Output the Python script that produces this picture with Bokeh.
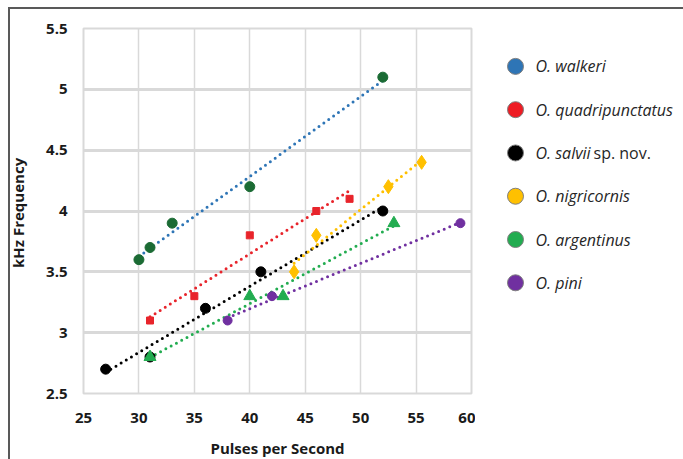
import numpy as np
from bokeh.plotting import figure
from bokeh.layouts import row
from bokeh.models import FixedTicker, Range1d
from bokeh.core.properties import value
from bokeh.embed import file_html
from bokeh.resources import INLINE

# ---- data ----
species = ["O. walkeri", "O. quadripunctatus", "O. salvii", "O. nigricornis",
           "O. argentinus", "O. pini"]
species_suffix = ["", "", "sp. nov.", "", "", ""]

walkeri_x = [30, 31, 33, 40, 52]
walkeri_y = [3.6, 3.7, 3.9, 4.2, 5.1]

quadri_x = [31, 35, 40, 46, 49]
quadri_y = [3.1, 3.3, 3.8, 4.0, 4.1]

salvii_x = [27, 31, 36, 41, 52]
salvii_y = [2.7, 2.8, 3.2, 3.5, 4.0]

nigri_x = [44, 46, 52.5, 55.5]
nigri_y = [3.5, 3.8, 4.2, 4.4]

argent_x = [31, 40, 43, 53]
argent_y = [2.8, 3.3, 3.3, 3.9]

pini_x = [38, 42, 59]
pini_y = [3.1, 3.3, 3.9]

x_ticks = [25, 30, 35, 40, 45, 50, 55, 60]
y_ticks = [2.5, 3, 3.5, 4, 4.5, 5, 5.5]

FONT = "Open Sans"

frame_css = ("linear-gradient(#595959,#595959) 8px 7px / 100% 2px no-repeat, "
             "linear-gradient(#595959,#595959) 8px 7px / 2px 100% no-repeat, white")

MAIN_W = 475
FR_TOP, FR_H = 28, 365
p = figure(width=MAIN_W, height=459, output_backend="svg", toolbar_location=None,
           x_range=Range1d(25, 60), y_range=Range1d(2.5, 5.5),
           min_border_left=83, min_border_right=MAIN_W - 83 - 388,
           min_border_top=FR_TOP, min_border_bottom=459 - FR_TOP - FR_H)
p.frame_width = 388
p.frame_height = FR_H
p.outline_line_color = "#d9d9d9"
p.outline_line_width = 2
p.background_fill_color = "white"
p.border_fill_alpha = 0

# axes
for ax in (p.xaxis[0], p.yaxis[0]):
    ax.axis_line_color = None
    ax.major_tick_line_color = None
    ax.minor_tick_line_color = None
    ax.major_tick_out = 0
    ax.major_tick_in = 0
    ax.major_label_text_font = FONT
    ax.major_label_text_font_style = "bold"
    ax.major_label_text_font_size = "15px"
    ax.major_label_text_color = "#1a1a1a"
    ax.axis_label_text_font = FONT
    ax.axis_label_text_font_style = "bold"
    ax.axis_label_text_font_size = "15px"
    ax.axis_label_text_color = "#1a1a1a"

p.xaxis.ticker = FixedTicker(ticks=x_ticks)
p.yaxis.ticker = FixedTicker(ticks=y_ticks)
p.yaxis.major_label_overrides = {2.5: "2.5", 3: "3", 3.5: "3.5", 4: "4",
                                 4.5: "4.5", 5: "5", 5.5: "5.5"}
p.xaxis.major_label_standoff = 19
p.yaxis.major_label_standoff = 16
p.xaxis.axis_label = "Pulses per Second"
p.yaxis.axis_label = "kHz  Frequency"
p.xaxis.axis_label_standoff = 12
p.yaxis.axis_label_standoff = 15

p.xgrid.grid_line_color = "#d9d9d9"
p.xgrid.grid_line_width = 1.5
p.ygrid.grid_line_color = "#d9d9d9"
p.ygrid.grid_line_width = 3

series = [
    (walkeri_x, walkeri_y, "#2e75b6", "circle", "#1b6b34", 10),
    (quadri_x, quadri_y, "#e8242b", "square", "#e8242b", 7),
    (salvii_x, salvii_y, "#000000", "circle", "#000000", 10),
    (nigri_x, nigri_y, "#ffc000", "diamond", "#ffc000", 14),
    (argent_x, argent_y, "#22ac50", "triangle", "#22ac50", 12),
    (pini_x, pini_y, "#7030a0", "circle", "#7030a0", 9),
]

# trend lines (least-squares fits of each series, as in the original)
for xs, ys, lc, mk, mc, sz in series:
    xa = np.array(xs, dtype=float)
    ya = np.array(ys, dtype=float)
    m, b = np.polyfit(xa, ya, 1)
    lx = [xa.min(), xa.max()]
    ly = [m * lx[0] + b, m * lx[1] + b]
    p.line(lx, ly, line_color=lc, line_width=3, line_dash="0 6",
           line_cap="round")

for xs, ys, lc, mk, mc, sz in series:
    p.scatter(xs, ys, marker=mk, size=sz, fill_color=mc, line_color=mc)

# ---- legend panel (pixel coordinates, top-down; its frame aligns with the main frame) ----
LEG_W = 683 - MAIN_W
lg = figure(width=LEG_W, height=459, output_backend="svg", toolbar_location=None,
            x_range=Range1d(MAIN_W, 683), y_range=Range1d(FR_TOP + FR_H, FR_TOP),
            x_axis_type=None, y_axis_type=None, min_border=0)
lg.grid.visible = False
lg.outline_line_color = None
lg.background_fill_alpha = 0
lg.border_fill_alpha = 0

legend_colors = ["#2e75b6", "#ee1c24", "#000000", "#ffc000", "#22ac50", "#7030a0"]
row_y = [66 + 43.4 * i for i in range(len(species))]
lg.scatter(x=[515] * len(species), y=row_y, marker="circle", size=16,
           fill_color=legend_colors, line_color="#7f7f7f", line_width=1)
lg.text(x=[535] * len(species), y=row_y, text=species,
        text_font=value(FONT), text_font_style="italic", text_font_size="16px",
        text_color="#262626", text_baseline="middle", text_align="left")
suf_idx = [i for i, s in enumerate(species_suffix) if s]
lg.text(x=[593] * len(suf_idx), y=[row_y[i] for i in suf_idx],
        text=[species_suffix[i] for i in suf_idx],
        text_font=value(FONT), text_font_style="normal", text_font_size="16px",
        text_color="#262626", text_baseline="middle", text_align="left")

layout = row(p, lg, spacing=0, styles={"background": frame_css})

open("out.html", "w").write(file_html(layout, INLINE))
